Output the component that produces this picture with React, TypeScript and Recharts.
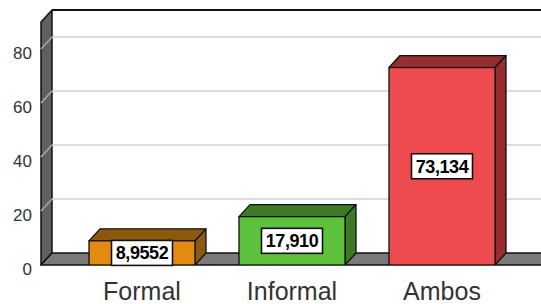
import React from 'react';
import { BarChart, Bar, XAxis, YAxis, ReferenceArea, ReferenceLine, LabelList } from 'recharts';

const categories = ['Formal', 'Informal', 'Ambos'];
const values = [8.9552, 17.91, 73.134];
const frontColors = ['#E38B10', '#5DC13B', '#EE4B4F'];
const shadeColors = ['#8C5A0E', '#3C7A26', '#982D30'];
const yTicks = [0, 20, 40, 60, 80];
const gridValues = [20, 40, 60, 80];
const yMax = 90;

const data = categories.map((name, idx) => ({ name, value: values[idx], idx }));

const CHART_W = 541;
const CHART_H = 304;
const MARGIN = { top: 22, right: 0, bottom: 0, left: 0 };
const YAXIS_W = 41;
const XAXIS_H = 39;
const PLOT_LEFT = MARGIN.left + YAXIS_W;
const PLOT_RIGHT = CHART_W - MARGIN.right;
const DX = 11;
const DY = 12;
const FONT = '"Liberation Sans", Arial, sans-serif';

const fmt = (v: number) => v.toPrecision(5).replace('.', ',');

const Walls = (props: any) => {
  const { y, height } = props;
  const top = y;
  const bottom = y + height;
  return (
    <g>
      <rect x={PLOT_LEFT + DX} y={top - DY} width={PLOT_RIGHT - PLOT_LEFT} height={height} fill="#ffffff" />
      <line x1={PLOT_LEFT + DX} y1={top - DY} x2={PLOT_RIGHT + 20} y2={top - DY} stroke="#111" strokeWidth={2} />
      <polygon
        points={`${PLOT_LEFT},${top} ${PLOT_LEFT + DX},${top - DY} ${PLOT_LEFT + DX},${bottom - DY} ${PLOT_LEFT},${bottom}`}
        fill="#606060"
        stroke="#111"
        strokeWidth={1.5}
        strokeLinejoin="round"
      />
      <polygon
        points={`${PLOT_LEFT},${bottom} ${PLOT_LEFT + DX},${bottom - DY} ${PLOT_RIGHT + 20},${bottom - DY} ${PLOT_RIGHT + 20},${bottom}`}
        fill="#7a7a7a"
        stroke="#111"
        strokeWidth={1.5}
        strokeLinejoin="round"
      />
    </g>
  );
};

const GridLine = (props: any) => {
  const { y1 } = props;
  const yy = Number(y1);
  return (
    <g>
      <line x1={PLOT_LEFT} y1={yy} x2={PLOT_LEFT + DX} y2={yy - DY} stroke="#a8a8a8" strokeWidth={1.5} />
      <line x1={PLOT_LEFT + DX} y1={yy - DY} x2={PLOT_RIGHT + 20} y2={yy - DY} stroke="#d2d2d2" strokeWidth={1.5} />
    </g>
  );
};

const Bar3D = (props: any) => {
  const { x, y, width, height, payload } = props;
  const i = payload.idx;
  const sw = 1.3;
  return (
    <g>
      <polygon
        points={`${x},${y} ${x + DX},${y - DY} ${x + width + DX},${y - DY} ${x + width},${y}`}
        fill={shadeColors[i]}
        stroke="#111"
        strokeWidth={sw}
        strokeLinejoin="round"
      />
      <polygon
        points={`${x + width},${y} ${x + width + DX},${y - DY} ${x + width + DX},${y + height - DY} ${x + width},${y + height}`}
        fill={shadeColors[i]}
        stroke="#111"
        strokeWidth={sw}
        strokeLinejoin="round"
      />
      <rect x={x} y={y} width={width} height={height} fill={frontColors[i]} stroke="#111" strokeWidth={sw} />
    </g>
  );
};

const ValueLabel = (props: any) => {
  const { x, y, width, height, value } = props;
  const cx = Number(x) + Number(width) / 2;
  const cy = Number(y) + Number(height) / 2;
  const bw = 61;
  const bh = 25;
  return (
    <g>
      <rect x={cx - bw / 2} y={cy - bh / 2} width={bw} height={bh} fill="#fff" stroke="#111" strokeWidth={1.6} />
      <text
        x={cx}
        y={cy}
        dy="0.36em"
        textAnchor="middle"
        fontFamily={FONT}
        fontWeight="bold"
        fontSize={18}
        letterSpacing={-0.4}
        fill="#000"
      >
        {fmt(Number(value))}
      </text>
    </g>
  );
};

const YTick = (props: any) => {
  const { x, y, payload } = props;
  return (
    <text x={x} y={Number(y) + 4} dy="0.36em" textAnchor="end" fontFamily={FONT} fontSize={17} fill="#333">
      {payload.value}
    </text>
  );
};

const XTick = (props: any) => {
  const { x, payload } = props;
  return (
    <text x={x} y={300} textAnchor="middle" fontFamily={FONT} fontSize={25} fill="#333">
      {payload.value}
    </text>
  );
};

export default function App() {
  return (
    <div style={{ position: 'fixed', left: 0, top: 0, width: CHART_W, height: CHART_H, overflow: 'hidden', background: '#fff' }}>
      <BarChart width={CHART_W} height={CHART_H} data={data} margin={MARGIN}>
        <XAxis
          dataKey="name"
          height={XAXIS_H}
          axisLine={false}
          tickLine={false}
          padding={{ left: 26, right: 24 }}
          tick={<XTick />}
          interval={0}
        />
        <YAxis
          width={YAXIS_W}
          domain={[0, yMax]}
          ticks={yTicks}
          axisLine={false}
          tickLine={false}
          tickSize={6}
          tickMargin={3}
          tick={<YTick />}
          allowDataOverflow
        />
        <ReferenceArea y1={0} y2={yMax} ifOverflow="visible" shape={<Walls />} zIndex={-200} />
        {gridValues.map((v) => (
          <ReferenceLine key={v} y={v} ifOverflow="visible" shape={<GridLine />} zIndex={-100} />
        ))}
        <Bar dataKey="value" barSize={106} shape={<Bar3D />} isAnimationActive={false}>
          <LabelList dataKey="value" content={<ValueLabel />} />
        </Bar>
      </BarChart>
    </div>
  );
}
